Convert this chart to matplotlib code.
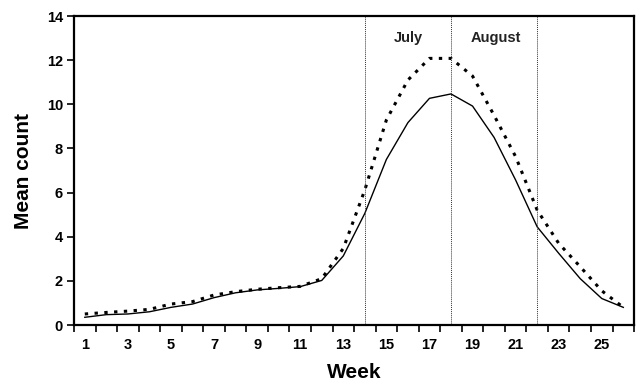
import matplotlib
matplotlib.use("Agg")
import matplotlib.pyplot as plt
from matplotlib.ticker import MultipleLocator, FixedLocator

plt.rcParams['font.family'] = ['Liberation Sans', 'DejaVu Sans']

# weekly mean counts
weeks = list(range(1, 27))
solid = [0.35, 0.47, 0.5, 0.6, 0.8, 0.95, 1.24, 1.46, 1.59, 1.66, 1.74, 2.02,
         3.13, 5.06, 7.5, 9.17, 10.27, 10.47, 9.92, 8.5, 6.57, 4.45, 3.25,
         2.1, 1.2, 0.8]
dotted = [0.5, 0.57, 0.63, 0.71, 0.95, 1.06, 1.36, 1.51, 1.62, 1.69, 1.75, 2.1,
          3.47, 6.12, 9.29, 11.1, 12.08, 12.08, 11.28, 9.5, 7.63, 5.21, 3.7,
          2.64, 1.55, 0.8]
month_lines = [14, 18, 22]
month_labels = [(16, 'July'), (20.1, 'August')]

fig = plt.figure(figsize=(6.36, 3.85), dpi=100)
ax = fig.add_axes([0.1164, 0.1558, 0.8806, 0.8026])

ax.plot(weeks, solid, color='black', lw=1.0)
ax.plot(weeks, dotted, color='black', lw=2.2, linestyle=(0, (1.1, 2.1)))

for w in month_lines:
    ax.axvline(w, color='#333333', lw=0.7, linestyle=(0, (1, 1)))
for x, s in month_labels:
    ax.text(x, 13.0, s, ha='center', va='center', fontsize=10.5,
            fontweight='bold', color='#222222')

ax.set_xlim(0.5, 26.5)
ax.set_ylim(0, 14)
ax.yaxis.set_major_locator(MultipleLocator(2))
ax.xaxis.set_major_locator(FixedLocator(weeks[::2]))
ax.xaxis.set_minor_locator(FixedLocator([w + 0.5 for w in range(0, 27)]))
ax.tick_params(axis='x', which='major', length=0, pad=9, labelsize=10.5)
ax.tick_params(axis='x', which='minor', length=5, width=1.2, direction='out')
ax.tick_params(axis='y', length=5, width=1.2, pad=3, labelsize=10.5)
for lab in ax.get_xticklabels() + ax.get_yticklabels():
    lab.set_fontweight('bold')

for sp in ax.spines.values():
    sp.set_linewidth(1.6)

ax.set_xlabel('Week', fontsize=15, fontweight='bold', labelpad=8)
ax.set_ylabel('Mean count', fontsize=15, fontweight='bold', labelpad=10)

fig.savefig('out.png', dpi=100)
